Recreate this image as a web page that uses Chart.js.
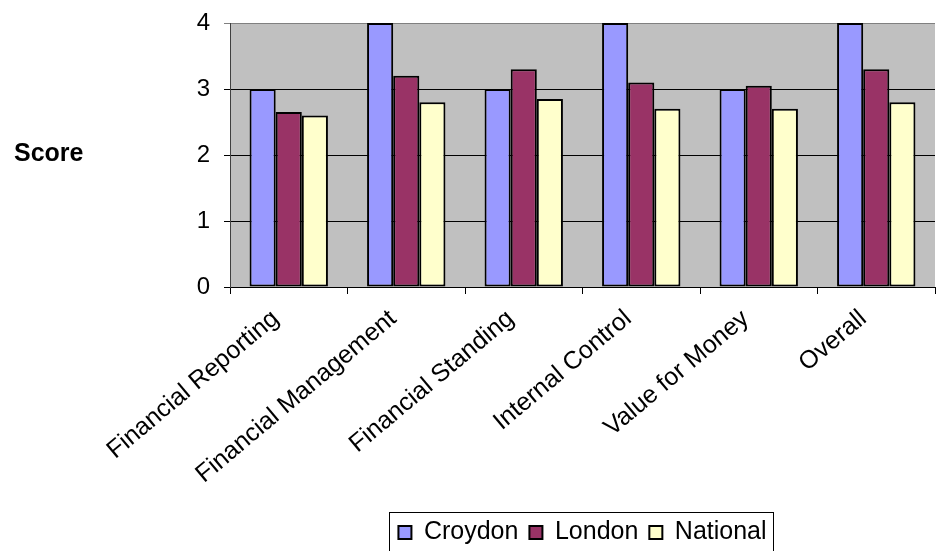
<!DOCTYPE html>
<html>
<head>
<meta charset="utf-8">
<title>Score</title>
<script src="https://cdn.jsdelivr.net/npm/chart.js@4/dist/chart.umd.min.js"></script>
<style>
  html, body { margin: 0; padding: 0; background: #ffffff; }
  #wrap { width: 936px; height: 551px; position: relative; overflow: hidden; }
</style>
</head>
<body>
<div id="wrap"><canvas id="chart" width="936" height="551"></canvas></div>
<script>
// Audit scores by area
const categories = ["Financial Reporting", "Financial Management", "Financial Standing", "Internal Control", "Value for Money", "Overall"];
const croydon  = [3, 4, 3, 4, 3, 4];
const london   = [2.65, 3.2, 3.3, 3.1, 3.05, 3.3];
const national = [2.6, 2.8, 2.85, 2.7, 2.7, 2.8];
const yTicks   = [0, 1, 2, 3, 4];
const axisTitle = "Score";

const FONT = "'Liberation Sans', Arial, sans-serif";

// grey plot background
const plotBackground = {
  id: 'plotBackground',
  beforeDraw(chart) {
    const { ctx, chartArea: a } = chart;
    ctx.save();
    ctx.fillStyle = '#C0C0C0';
    ctx.fillRect(a.left, a.top, a.right - a.left, a.bottom - a.top);
    ctx.restore();
  }
};

// horizontal axis title and framed legend
const decorations = {
  id: 'decorations',
  afterDraw(chart) {
    const { ctx } = chart;
    ctx.save();
    ctx.fillStyle = '#000';
    ctx.font = "bold 25px " + FONT;
    ctx.textAlign = 'left';
    ctx.textBaseline = 'alphabetic';
    ctx.fillText(axisTitle, 14, 161);

    const lg = chart.legend;
    if (lg && lg.legendHitBoxes && lg.legendHitBoxes.length) {
      const boxes = lg.legendHitBoxes;
      const first = boxes[0];
      const last = boxes[boxes.length - 1];
      const x0 = Math.round(first.left - 9) + 0.5;
      const x1 = Math.round(last.left + last.width + 6) + 0.5;
      const y0 = Math.round(lg.top + 3) + 0.5;
      ctx.strokeStyle = '#000';
      ctx.lineWidth = 1;
      ctx.strokeRect(x0, y0, x1 - x0, 60);
    }
    ctx.restore();
  }
};

new Chart(document.getElementById('chart'), {
  type: 'bar',
  data: {
    labels: categories,
    datasets: [
      { label: 'Croydon',  data: croydon,  backgroundColor: '#9999FF' },
      { label: 'London',   data: london,   backgroundColor: '#993366' },
      { label: 'National', data: national, backgroundColor: '#FFFFCC' }
    ].map(d => Object.assign(d, {
      borderColor: '#000',
      borderWidth: 2,
      borderSkipped: false,
      categoryPercentage: 0.667,
      barPercentage: 1.0
    }))
  },
  options: {
    responsive: false,
    animation: false,
    devicePixelRatio: 1,
    layout: { padding: { top: 23, right: 1, bottom: -4, left: 0 } },
    plugins: {
      legend: {
        position: 'bottom',
        fullSize: false,
        labels: {
          color: '#000',
          font: { family: FONT, size: 25 },
          boxWidth: 13,
          boxHeight: 13,
          padding: 11
        }
      },
      tooltip: { enabled: false },
      title: { display: false }
    },
    scales: {
      x: {
        offset: true,
        grid: {
          display: true,
          offset: true,
          drawOnChartArea: false,
          drawTicks: true,
          tickLength: 7,
          color: '#000',
          lineWidth: 1
        },
        border: { display: true, color: '#000', width: 1 },
        ticks: {
          color: '#000',
          font: { family: FONT, size: 25 },
          minRotation: 40,
          maxRotation: 40,
          autoSkip: false,
          padding: 10,
          labelOffset: -13
        },
        afterFit(scale) { scale.height = 222; }
      },
      y: {
        min: yTicks[0],
        max: yTicks[yTicks.length - 1],
        afterBuildTicks(scale) { scale.ticks = yTicks.map(v => ({ value: v })); },
        grid: {
          color: ctx => (ctx.tick && ctx.tick.value === 4) ? '#808080' : '#000',
          lineWidth: 1,
          tickLength: 6,
          drawTicks: true
        },
        border: { display: true, color: '#404040', width: 1 },
        ticks: {
          color: '#000',
          font: { family: FONT, size: 24 },
          padding: 14
        },
        afterFit(scale) {
          scale.width = 230;
          scale.paddingTop = 0;
          scale.paddingBottom = 0;
        }
      }
    }
  },
  plugins: [plotBackground, decorations]
});
</script>
</body>
</html>
